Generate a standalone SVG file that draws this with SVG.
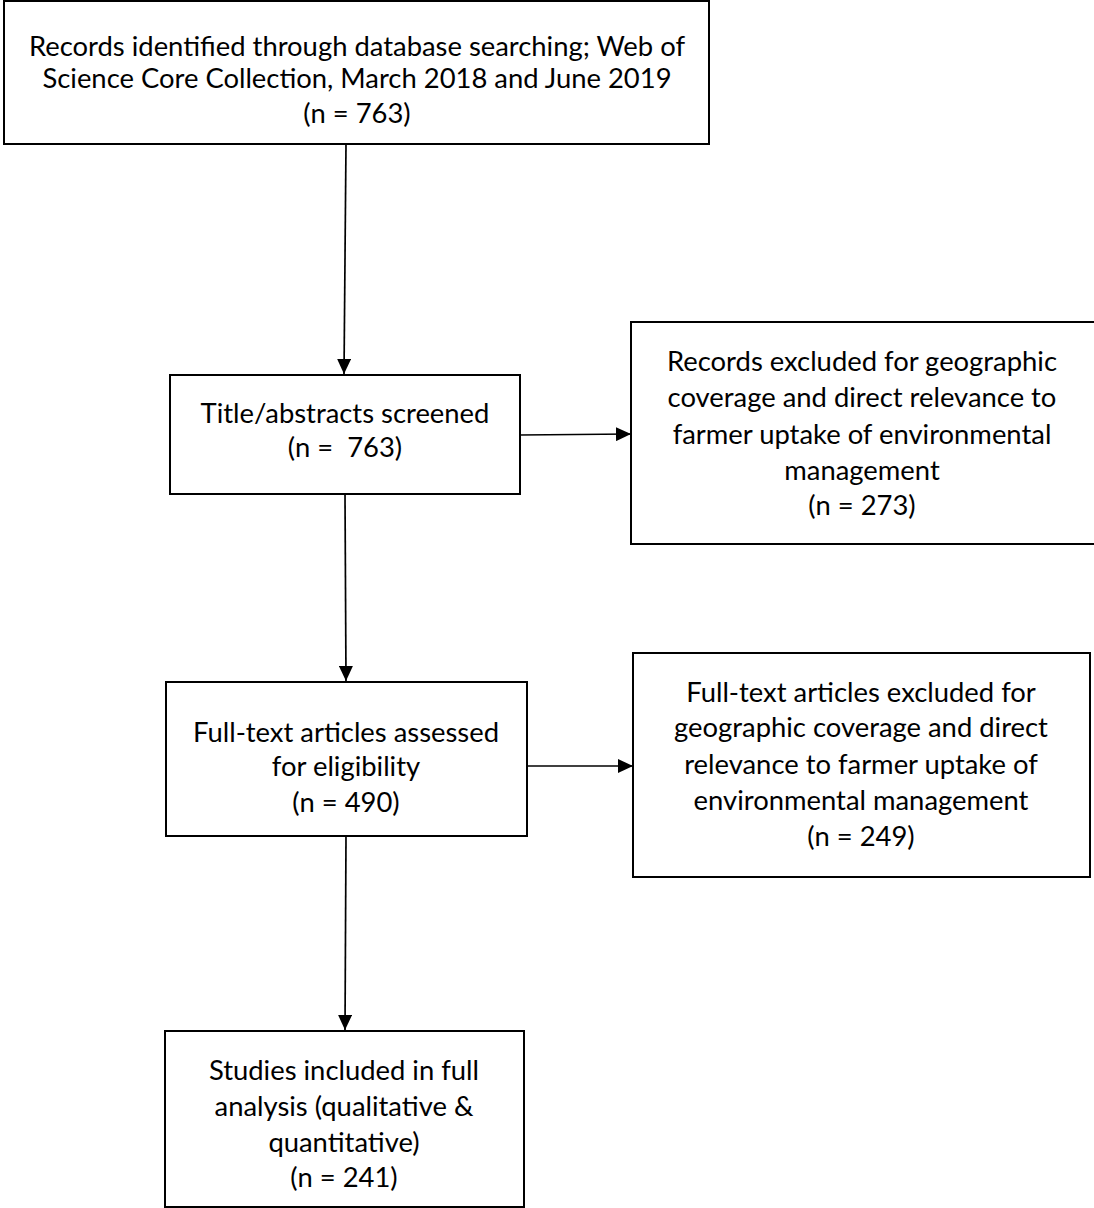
<svg xmlns="http://www.w3.org/2000/svg" width="1094" height="1208" viewBox="0 0 1094 1208">
<defs>
<marker id="ah" markerWidth="16" markerHeight="14" refX="15" refY="7" orient="auto" markerUnits="userSpaceOnUse">
<path d="M0,0 L15,7 L0,14 Z" fill="#000"/>
</marker>
<style>
.box{fill:#fff;stroke:#000;stroke-width:2}
.t{font-family:Lato,"Open Sans","Liberation Sans",sans-serif;font-size:27.4px;fill:#000;text-anchor:middle}
.c{stroke:#000;stroke-width:1.7;fill:none}
</style>
</defs>
<rect width="1094" height="1208" fill="#fff"/>
<g id="connectors">
<line class="c" x1="346" y1="144" x2="344" y2="374" marker-end="url(#ah)"/>
<line class="c" x1="520" y1="435" x2="631" y2="434" marker-end="url(#ah)"/>
<line class="c" x1="345" y1="494" x2="346" y2="681" marker-end="url(#ah)"/>
<line class="c" x1="527" y1="766" x2="633" y2="766" marker-end="url(#ah)"/>
<line class="c" x1="346" y1="836" x2="345" y2="1030" marker-end="url(#ah)"/>
</g>
<g id="n1">
<rect class="box" x="4" y="1" width="705" height="143"/>
<text class="t" x="357" y="56">Records identified through database searching; Web of</text>
<text class="t" x="357" y="88">Science Core Collection, March 2018 and June 2019</text>
<text class="t" x="357" y="123">(n = 763)</text>
</g>
<g id="n2">
<rect class="box" x="170" y="375" width="350" height="119"/>
<text class="t" x="345" y="423" xml:space="preserve">Title/abstracts screened</text>
<text class="t" x="345" y="457" xml:space="preserve">(n =  763)</text>
</g>
<g id="n3">
<rect class="box" x="631" y="322" width="464" height="222"/>
<text class="t" x="862" y="371">Records excluded for geographic</text>
<text class="t" x="862" y="407">coverage and direct relevance to</text>
<text class="t" x="862" y="444">farmer uptake of environmental</text>
<text class="t" x="862" y="480">management</text>
<text class="t" x="862" y="515">(n = 273)</text>
</g>
<g id="n4">
<rect class="box" x="166" y="682" width="361" height="154"/>
<text class="t" x="346" y="742">Full-text articles assessed</text>
<text class="t" x="346" y="776">for eligibility</text>
<text class="t" x="346" y="812">(n = 490)</text>
</g>
<g id="n5">
<rect class="box" x="633" y="653" width="457" height="224"/>
<text class="t" x="861" y="702">Full-text articles excluded for</text>
<text class="t" x="861" y="737">geographic coverage and direct</text>
<text class="t" x="861" y="774">relevance to farmer uptake of</text>
<text class="t" x="861" y="810">environmental management</text>
<text class="t" x="861" y="846">(n = 249)</text>
</g>
<g id="n6">
<rect class="box" x="165" y="1031" width="359" height="176"/>
<text class="t" x="344" y="1080">Studies included in full</text>
<text class="t" x="344" y="1116">analysis (qualitative &amp;</text>
<text class="t" x="344" y="1152">quantitative)</text>
<text class="t" x="344" y="1187">(n = 241)</text>
</g>
</svg>
